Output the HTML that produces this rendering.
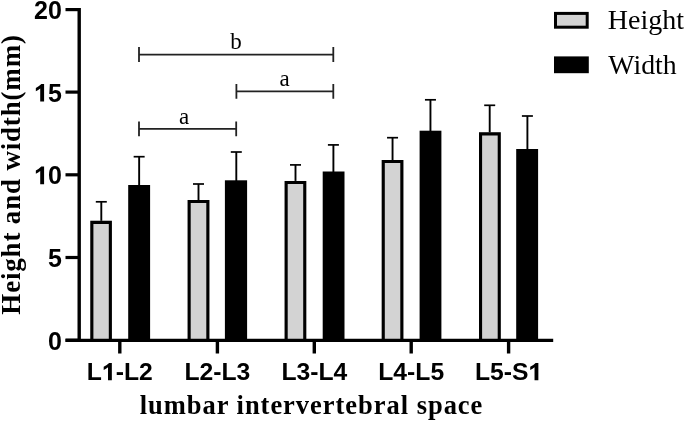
<!DOCTYPE html>
<html><head><meta charset="utf-8"><style>
html,body{margin:0;padding:0;background:#fff;}
body{width:685px;height:422px;overflow:hidden;}
svg{display:block;}
svg{will-change:transform;}
.num{font-family:"Liberation Sans",sans-serif;font-weight:bold;font-size:25px;fill:#000;}
.one{fill-opacity:0;}
.ser{font-family:"Liberation Serif",serif;fill:#000;}
</style></head><body>
<svg width="685" height="422" viewBox="0 0 685 422">
<line x1="101.30" y1="201.80" x2="101.30" y2="221.80" stroke="#000" stroke-width="1.9"/>
<line x1="95.80" y1="201.80" x2="106.80" y2="201.80" stroke="#000" stroke-width="1.7"/>
<rect x="90.30" y="220.80" width="21.60" height="119.50" fill="#d3d3d3"/>
<path d="M91.85 340.30 V222.35 H110.35 V340.30" fill="none" stroke="#000" stroke-width="3.1" stroke-linejoin="miter"/>
<line x1="139.15" y1="156.70" x2="139.15" y2="186.00" stroke="#000" stroke-width="1.9"/>
<line x1="133.65" y1="156.70" x2="144.65" y2="156.70" stroke="#000" stroke-width="1.7"/>
<rect x="128.20" y="185.00" width="21.90" height="155.30" fill="#000"/>
<line x1="198.50" y1="184.00" x2="198.50" y2="201.00" stroke="#000" stroke-width="1.9"/>
<line x1="193.00" y1="184.00" x2="204.00" y2="184.00" stroke="#000" stroke-width="1.7"/>
<rect x="187.60" y="200.00" width="21.80" height="140.30" fill="#d3d3d3"/>
<path d="M189.15 340.30 V201.55 H207.85 V340.30" fill="none" stroke="#000" stroke-width="3.1" stroke-linejoin="miter"/>
<line x1="236.30" y1="152.00" x2="236.30" y2="181.30" stroke="#000" stroke-width="1.9"/>
<line x1="230.80" y1="152.00" x2="241.80" y2="152.00" stroke="#000" stroke-width="1.7"/>
<rect x="224.90" y="180.30" width="22.20" height="160.00" fill="#000"/>
<line x1="295.50" y1="164.90" x2="295.50" y2="181.90" stroke="#000" stroke-width="1.9"/>
<line x1="290.00" y1="164.90" x2="301.00" y2="164.90" stroke="#000" stroke-width="1.7"/>
<rect x="284.60" y="180.90" width="21.70" height="159.40" fill="#d3d3d3"/>
<path d="M286.15 340.30 V182.45 H304.75 V340.30" fill="none" stroke="#000" stroke-width="3.1" stroke-linejoin="miter"/>
<line x1="333.40" y1="144.90" x2="333.40" y2="172.50" stroke="#000" stroke-width="1.9"/>
<line x1="327.90" y1="144.90" x2="338.90" y2="144.90" stroke="#000" stroke-width="1.7"/>
<rect x="322.70" y="171.50" width="21.80" height="168.80" fill="#000"/>
<line x1="392.55" y1="137.70" x2="392.55" y2="161.00" stroke="#000" stroke-width="1.9"/>
<line x1="387.05" y1="137.70" x2="398.05" y2="137.70" stroke="#000" stroke-width="1.7"/>
<rect x="381.70" y="160.00" width="21.70" height="180.30" fill="#d3d3d3"/>
<path d="M383.25 340.30 V161.55 H401.85 V340.30" fill="none" stroke="#000" stroke-width="3.1" stroke-linejoin="miter"/>
<line x1="430.45" y1="99.80" x2="430.45" y2="131.70" stroke="#000" stroke-width="1.9"/>
<line x1="424.95" y1="99.80" x2="435.95" y2="99.80" stroke="#000" stroke-width="1.7"/>
<rect x="419.60" y="130.70" width="21.80" height="209.60" fill="#000"/>
<line x1="489.70" y1="105.30" x2="489.70" y2="133.30" stroke="#000" stroke-width="1.9"/>
<line x1="484.20" y1="105.30" x2="495.20" y2="105.30" stroke="#000" stroke-width="1.7"/>
<rect x="479.00" y="132.30" width="21.80" height="208.00" fill="#d3d3d3"/>
<path d="M480.55 340.30 V133.85 H499.25 V340.30" fill="none" stroke="#000" stroke-width="3.1" stroke-linejoin="miter"/>
<line x1="527.40" y1="116.00" x2="527.40" y2="150.00" stroke="#000" stroke-width="1.9"/>
<line x1="521.90" y1="116.00" x2="532.90" y2="116.00" stroke="#000" stroke-width="1.7"/>
<rect x="516.20" y="149.00" width="21.90" height="191.30" fill="#000"/>
<!-- axes -->
<line x1="79.2" y1="8.1" x2="79.2" y2="341.7" stroke="#000" stroke-width="3.4"/>
<line x1="65.5" y1="340.30" x2="553.2" y2="340.30" stroke="#000" stroke-width="3.3"/>
<line x1="65.5" y1="340.20" x2="79" y2="340.20" stroke="#000" stroke-width="3.2"/>
<text x="61.9" y="349.60" text-anchor="end" class="num">0</text>
<line x1="65.5" y1="257.50" x2="79" y2="257.50" stroke="#000" stroke-width="3.2"/>
<text x="61.9" y="266.90" text-anchor="end" class="num">5</text>
<line x1="65.5" y1="174.80" x2="79" y2="174.80" stroke="#000" stroke-width="3.2"/>
<text x="61.9" y="184.20" text-anchor="end" class="num"><tspan class="one">1</tspan>0</text>
<line x1="65.5" y1="92.10" x2="79" y2="92.10" stroke="#000" stroke-width="3.2"/>
<text x="61.9" y="101.50" text-anchor="end" class="num"><tspan class="one">1</tspan>5</text>
<line x1="65.5" y1="9.60" x2="79" y2="9.60" stroke="#000" stroke-width="3.2"/>
<text x="61.9" y="19.00" text-anchor="end" class="num">20</text>
<line x1="119.80" y1="340.30" x2="119.80" y2="353.5" stroke="#000" stroke-width="3.4"/>
<text x="119.80" y="380.3" text-anchor="middle" class="num" style="font-size:24.7px">L<tspan class="one">1</tspan>-L2</text>
<line x1="217.40" y1="340.30" x2="217.40" y2="353.5" stroke="#000" stroke-width="3.4"/>
<text x="217.40" y="380.3" text-anchor="middle" class="num" style="font-size:24.7px">L2-L3</text>
<line x1="314.30" y1="340.30" x2="314.30" y2="353.5" stroke="#000" stroke-width="3.4"/>
<text x="314.30" y="380.3" text-anchor="middle" class="num" style="font-size:24.7px">L3-L4</text>
<line x1="411.20" y1="340.30" x2="411.20" y2="353.5" stroke="#000" stroke-width="3.4"/>
<text x="411.20" y="380.3" text-anchor="middle" class="num" style="font-size:24.7px">L4-L5</text>
<line x1="508.60" y1="340.30" x2="508.60" y2="353.5" stroke="#000" stroke-width="3.4"/>
<text x="508.60" y="380.3" text-anchor="middle" class="num" style="font-size:24.7px">L5-S<tspan class="one">1</tspan></text>
<!-- significance brackets -->
<g stroke="#222" stroke-width="1.8" fill="none">
<path d="M139 54.7 H333.3 M139 47 V61.9 M333.3 47 V61.9"/>
<path d="M236.4 91.4 H333.3 M236.4 83.9 V98.8 M333.3 83.9 V98.8"/>
<path d="M139 128.9 H236.2 M139 121.6 V136.3 M236.2 121.6 V136.3"/>
</g>
<text x="236.0" y="49.4" text-anchor="middle" class="ser" font-size="23">b</text>
<text x="284.6" y="86" text-anchor="middle" class="ser" font-size="23">a</text>
<text x="184.1" y="123.5" text-anchor="middle" class="ser" font-size="23">a</text>
<!-- legend -->
<rect x="555.5" y="13.4" width="31.7" height="13.8" fill="#d3d3d3" stroke="#000" stroke-width="3"/>
<rect x="554" y="56.4" width="34.8" height="16.8" fill="#000"/>
<text x="607.8" y="29.4" class="ser" font-size="28">Height</text>
<text x="608.3" y="74.2" class="ser" font-size="27.8">Width</text>
<!-- axis titles -->
<text transform="translate(19.6 314.66) rotate(-90)" class="ser" font-weight="bold" font-size="27" letter-spacing="0.82">Height and width(mm)</text>
<text x="139.7" y="414.1" class="ser" font-weight="bold" font-size="26.5" letter-spacing="0.97">lumbar intervertebral space</text>
<path transform="translate(34.09 184.20) scale(25)" d="M0.40 0 V-0.705 H0.29 Q0.20 -0.615 0.07 -0.545 V-0.415 Q0.17 -0.465 0.245 -0.525 V0 Z" fill="#000"/>
<path transform="translate(34.09 101.50) scale(25)" d="M0.40 0 V-0.705 H0.29 Q0.20 -0.615 0.07 -0.545 V-0.415 Q0.17 -0.465 0.245 -0.525 V0 Z" fill="#000"/>
<path transform="translate(101.96 380.30) scale(24.7)" d="M0.40 0 V-0.705 H0.29 Q0.20 -0.615 0.07 -0.545 V-0.415 Q0.17 -0.465 0.245 -0.525 V0 Z" fill="#000"/>
<path transform="translate(528.48 380.30) scale(24.7)" d="M0.40 0 V-0.705 H0.29 Q0.20 -0.615 0.07 -0.545 V-0.415 Q0.17 -0.465 0.245 -0.525 V0 Z" fill="#000"/>
</svg>
</body></html>
